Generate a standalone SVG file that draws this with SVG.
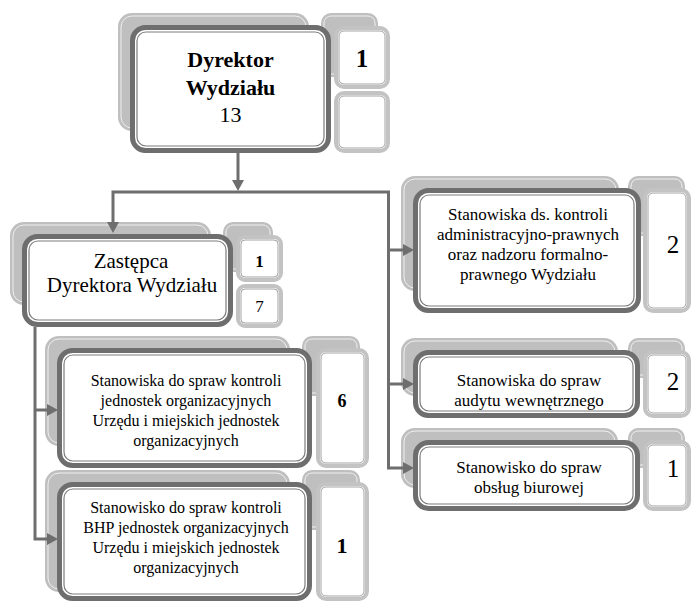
<svg xmlns="http://www.w3.org/2000/svg" width="692" height="605" viewBox="0 0 692 605">
<style>
.sh{fill:#bfbfbf}
.shl{fill:none;stroke:#efefef;stroke-width:1}
.mb{fill:#fff;stroke:#6e6e6e;stroke-width:5}
.mi{fill:none;stroke:#7c7c7c;stroke-width:1.2}
.nb{fill:#fff;stroke:#c3c3c3;stroke-width:4}
.ni{fill:none;stroke:#a3a3a3;stroke-width:1}
.t{font-family:"Liberation Serif","Times New Roman",serif;fill:#000;text-anchor:middle}
.b{font-weight:bold}
.c{fill:none;stroke:#6e6e6e;stroke-width:3}
.h{fill:#6e6e6e}
</style>
<rect width="692" height="605" fill="#fff"/>

<g id="dyrektor">
<rect class="sh" x="118" y="13" width="191" height="118" rx="14"/>
<rect class="shl" x="121" y="16" width="185" height="112" rx="11"/>
<rect class="sh" x="321" y="13" width="57" height="64" rx="10"/>
<rect class="shl" x="324" y="16" width="51" height="58" rx="7"/>
<rect class="mb" x="132.5" y="27.5" width="196" height="123" rx="13"/>
<rect class="mi" x="137" y="32" width="187" height="114" rx="9"/>
<text class="t b" x="230.5" y="67" font-size="22">Dyrektor</text>
<text class="t b" x="230.5" y="95" font-size="22">Wydziału</text>
<text class="t" x="230.5" y="122" font-size="22">13</text>
<rect class="nb" x="336" y="28" width="52" height="59" rx="8"/>
<rect class="ni" x="339" y="31" width="46" height="53" rx="5"/>
<text class="t b" x="362" y="67" font-size="25">1</text>
<rect class="nb" x="336" y="93" width="52" height="58" rx="8"/>
<rect class="ni" x="339" y="96" width="46" height="52" rx="5"/>
</g>

<g id="zastepca">
<rect class="sh" x="10" y="222" width="201" height="83" rx="14"/>
<rect class="shl" x="13" y="225" width="195" height="77" rx="11"/>
<rect class="sh" x="223" y="222" width="50" height="50" rx="10"/>
<rect class="shl" x="226" y="225" width="44" height="44" rx="7"/>
<rect class="mb" x="24.5" y="236.5" width="206" height="88" rx="13"/>
<rect class="mi" x="29" y="241" width="197" height="79" rx="9"/>
<text class="t" x="131" y="268" font-size="21">Zastępca</text>
<text class="t" x="132" y="292" font-size="21">Dyrektora Wydziału</text>
<rect class="nb" x="238" y="237" width="43" height="43" rx="7"/>
<rect class="ni" x="241" y="240" width="37" height="37" rx="4"/>
<text class="t b" x="259.5" y="267" font-size="17">1</text>
<rect class="nb" x="238" y="286" width="43" height="40" rx="7"/>
<rect class="ni" x="241" y="289" width="37" height="34" rx="4"/>
<text class="t" x="259.5" y="312" font-size="17">7</text>
</g>

<g id="kontrola-jednostek">
<rect class="sh" x="45" y="336" width="245" height="110" rx="14"/>
<rect class="shl" x="48" y="339" width="239" height="104" rx="11"/>
<rect class="sh" x="302" y="336" width="58" height="60" rx="10"/>
<rect class="shl" x="305" y="339" width="52" height="54" rx="7"/>
<rect class="mb" x="59.5" y="350.5" width="250" height="115" rx="13"/>
<rect class="mi" x="64" y="355" width="241" height="106" rx="9"/>
<text class="t" x="186" y="386" font-size="16">Stanowiska do spraw kontroli</text>
<text class="t" x="186" y="406" font-size="16">jednostek organizacyjnych</text>
<text class="t" x="186" y="426" font-size="16">Urzędu i miejskich jednostek</text>
<text class="t" x="186" y="446" font-size="16">organizacyjnych</text>
<rect class="nb" x="318" y="350" width="49" height="116" rx="8"/>
<rect class="ni" x="321" y="353" width="43" height="110" rx="5"/>
<text class="t b" x="342" y="407" font-size="18">6</text>
</g>

<g id="kontrola-bhp">
<rect class="sh" x="45" y="470" width="245" height="122" rx="14"/>
<rect class="shl" x="48" y="473" width="239" height="116" rx="11"/>
<rect class="sh" x="302" y="470" width="58" height="60" rx="10"/>
<rect class="shl" x="305" y="473" width="52" height="54" rx="7"/>
<rect class="mb" x="59.5" y="484.5" width="250" height="114" rx="13"/>
<rect class="mi" x="64" y="489" width="241" height="105" rx="9"/>
<text class="t" x="186" y="513" font-size="16">Stanowisko do spraw kontroli</text>
<text class="t" x="186" y="533" font-size="16">BHP jednostek organizacyjnych</text>
<text class="t" x="186" y="553" font-size="16">Urzędu i miejskich jednostek</text>
<text class="t" x="186" y="573" font-size="16">organizacyjnych</text>
<rect class="nb" x="318" y="484" width="49" height="115" rx="8"/>
<rect class="ni" x="321" y="487" width="43" height="109" rx="5"/>
<text class="t b" x="342" y="553" font-size="22">1</text>
</g>

<g id="kontrola-administracyjna">
<rect class="sh" x="401" y="176" width="218" height="115" rx="14"/>
<rect class="shl" x="404" y="179" width="212" height="109" rx="11"/>
<rect class="sh" x="628" y="176" width="57" height="60" rx="10"/>
<rect class="shl" x="631" y="179" width="51" height="54" rx="7"/>
<rect class="mb" x="415.5" y="190.5" width="223" height="120" rx="13"/>
<rect class="mi" x="420" y="195" width="214" height="111" rx="9"/>
<text class="t" x="528" y="220" font-size="17">Stanowiska ds. kontroli</text>
<text class="t" x="528" y="240" font-size="17">administracyjno-prawnych</text>
<text class="t" x="528" y="260" font-size="17">oraz nadzoru formalno-</text>
<text class="t" x="528" y="280" font-size="17">prawnego Wydziału</text>
<rect class="nb" x="645" y="190" width="44" height="121" rx="8"/>
<rect class="ni" x="648" y="193" width="38" height="115" rx="5"/>
<text class="t" x="673" y="253" font-size="25">2</text>
</g>

<g id="audyt">
<rect class="sh" x="401" y="338" width="217" height="58" rx="14"/>
<rect class="shl" x="404" y="341" width="211" height="52" rx="11"/>
<rect class="sh" x="628" y="338" width="57" height="40" rx="10"/>
<rect class="shl" x="631" y="341" width="51" height="34" rx="7"/>
<rect class="mb" x="415.5" y="352.5" width="222" height="63" rx="13"/>
<rect class="mi" x="420" y="357" width="213" height="54" rx="9"/>
<text class="t" x="529" y="386" font-size="17">Stanowiska do spraw</text>
<text class="t" x="529" y="406" font-size="17">audytu wewnętrznego</text>
<rect class="nb" x="645" y="352" width="44" height="64" rx="8"/>
<rect class="ni" x="648" y="355" width="38" height="58" rx="5"/>
<text class="t" x="673" y="390" font-size="25">2</text>
</g>

<g id="obsluga-biurowa">
<rect class="sh" x="401" y="428" width="217" height="60" rx="14"/>
<rect class="shl" x="404" y="431" width="211" height="54" rx="11"/>
<rect class="sh" x="628" y="428" width="57" height="40" rx="10"/>
<rect class="shl" x="631" y="431" width="51" height="34" rx="7"/>
<rect class="mb" x="415.5" y="442.5" width="222" height="66" rx="13"/>
<rect class="mi" x="420" y="447" width="213" height="57" rx="9"/>
<text class="t" x="529" y="473" font-size="17">Stanowisko do spraw</text>
<text class="t" x="529" y="493" font-size="17">obsług biurowej</text>
<rect class="nb" x="645" y="442" width="44" height="67" rx="8"/>
<rect class="ni" x="648" y="445" width="38" height="61" rx="5"/>
<text class="t" x="673" y="477" font-size="25">1</text>
</g>

<g id="connectors">
<path class="c" d="M238,153 V181"/>
<polygon class="h" points="232,180 244,180 238,191"/>
<path class="c" d="M113,223 V192 H388.5 V468 H404"/>
<polygon class="h" points="107,222 119,222 113,233"/>
<path class="c" d="M388.5,250 H404"/>
<polygon class="h" points="403,244 403,256 414,250"/>
<path class="c" d="M388.5,384 H404"/>
<polygon class="h" points="403,378 403,390 414,384"/>
<polygon class="h" points="403,462 403,474 414,468"/>
<path class="c" d="M35,327 V539 H48"/>
<path class="c" d="M35,410 H48"/>
<polygon class="h" points="47,404 47,416 58,410"/>
<polygon class="h" points="47,533 47,545 58,539"/>
</g>
</svg>
